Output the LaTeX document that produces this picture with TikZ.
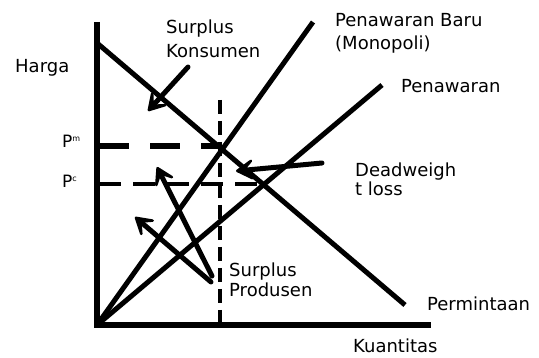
\documentclass[tikz,border=0pt]{standalone}
\usepackage{fontspec}
\setmainfont{DejaVu Sans}
\usetikzlibrary{arrows.meta}
\begin{document}
\begin{tikzpicture}[x=1pt,y=-1pt,
  lbl/.style={anchor=base west,inner sep=0pt,font=\fontsize{18}{20}\selectfont},
  plbl/.style={anchor=base west,inner sep=0pt,font=\fontsize{17}{18}\selectfont},
  axis/.style={line width=5.5pt},
  curve/.style={line width=5pt},
  dashpm/.style={line width=5.5pt,dash pattern=on 30pt off 21pt},
  dashpc/.style={line width=4.5pt,dash pattern=on 22pt off 12pt},
  dashv/.style={line width=3.2pt,dash pattern=on 14pt off 7pt},
  pointer/.style={line width=5pt,line cap=round,-{Stealth[length=25pt,width=30pt,inset=15pt,round]}}]
\useasboundingbox (0,0) rectangle (539,358);
% coordinates
\coordinate (O) at (97,325);
\coordinate (ytop) at (97,22);
\coordinate (xend) at (431,325);
\coordinate (dstart) at (97,43);
\coordinate (dend) at (405,305);
\coordinate (snew) at (313,22);
\coordinate (sold) at (382,85);
\coordinate (pmL) at (99,146);
\coordinate (pmR) at (220,146);
\coordinate (pcL) at (99,184);
\coordinate (pcR) at (262,184);
\coordinate (vtop) at (220,100);
\coordinate (vbot) at (220,325);
% axes
\draw[axis] (ytop) -- (O |- vbot) -- (xend);
% demand and supplies
\draw[curve] (dstart) -- (dend);
\draw[curve] (O) -- (snew);
\draw[curve] (O) -- (sold);
% dashed lines
\draw[dashpm] (pmL) -- (pmR);
\draw[dashpc] (pcL) -- (pcR);
\draw[dashv] (vtop) -- (vbot);
% labels
\node[lbl] (harga) at (15,73) {Harga};
\node[lbl] (sk1) at (166,34) {Surplus};
\node[lbl] (sk2) at (166,58) {Konsumen};
\node[lbl] (pb1) at (335,27) {Penawaran Baru};
\node[lbl] (pb2) at (335,50) {(Monopoli)};
\node[lbl] (pen) at (401,93) {Penawaran};
\node[lbl] (dw1) at (355,177) {Deadweigh};
\node[lbl] (dw2) at (355,196) {t loss};
\node[lbl] (sp1) at (229,277) {Surplus};
\node[lbl] (sp2) at (229,297) {Produsen};
\node[lbl] (perm) at (427,311) {Permintaan};
\node[lbl] (kuan) at (353,353) {Kuantitas};
\node[plbl] (pm) at (62,148) {P\raisebox{6pt}{\fontsize{8}{8}\selectfont m}};
\node[plbl] (pc) at (62,188) {P\raisebox{6pt}{\fontsize{8}{8}\selectfont c}};
% pointer arrows
\coordinate (a1s) at (188,67);
\coordinate (a1e) at (148,111);
\coordinate (a2s) at (322,163);
\coordinate (a2e) at (236,171);
\coordinate (a3s) at (212,276);
\coordinate (a3e) at (157,167);
\coordinate (a4s) at (211,282);
\coordinate (a4e) at (135,217);
\draw[pointer] (a1s) -- (a1e);
\draw[pointer] (a2s) -- (a2e);
\draw[pointer] (a3s) -- (a3e);
\draw[pointer] (a4s) -- (a4e);
\end{tikzpicture}
\end{document}
